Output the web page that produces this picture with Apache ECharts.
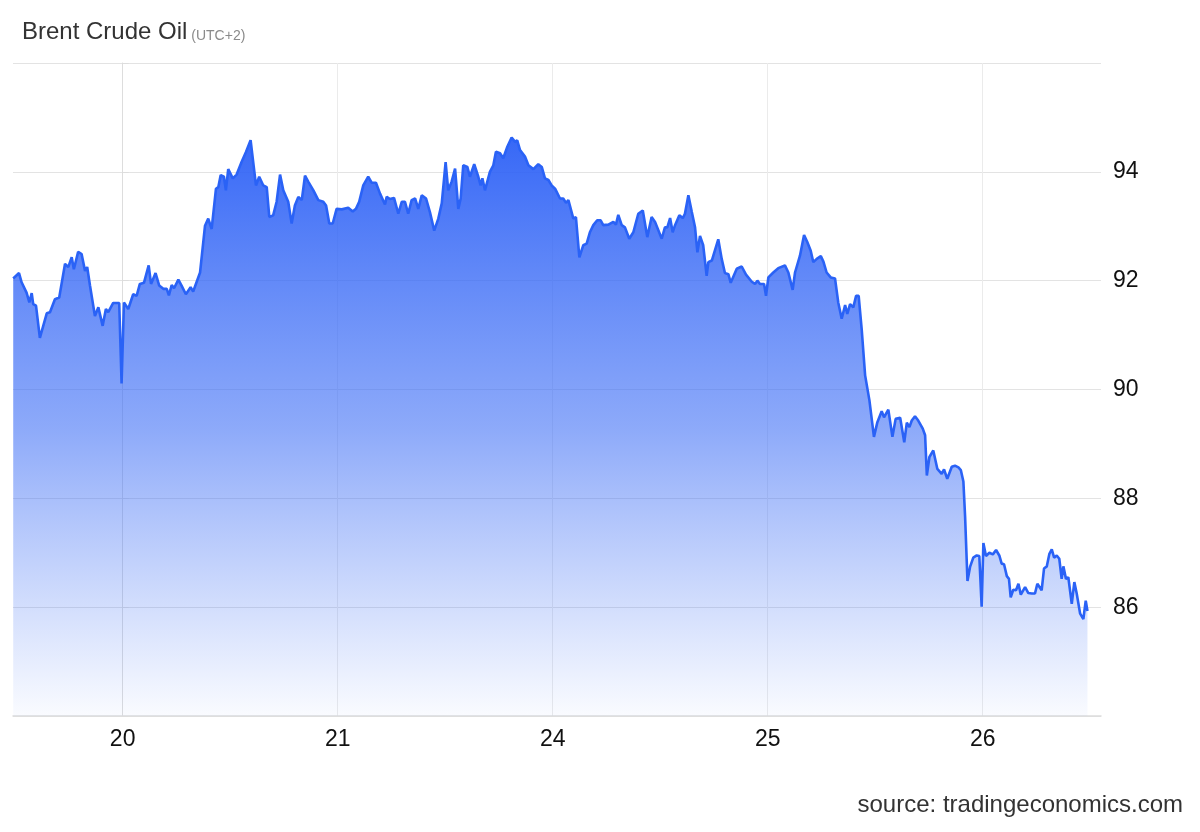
<!DOCTYPE html>
<html>
<head>
<meta charset="utf-8">
<script src="https://cdn.jsdelivr.net/npm/echarts@6/dist/echarts.min.js"></script>
<style>
html,body{margin:0;padding:0;background:#fff;}
#chart{width:1200px;height:832px;}
</style>
</head>
<body>
<div id="chart"></div>
<script>
// x-axis: trading-day index (0 = 20th, 1 = 21st, 2 = 24th, 3 = 25th, 4 = 26th)
const dayLabels = ['20', '21', '24', '25', '26'];
const dayIndex = [0, 1, 2, 3, 4];
const yLabels = [86, 88, 90, 92, 94];

const times = [
-0.509,-0.482,-0.470,-0.447,-0.434,-0.423,-0.416,-0.403,-0.385,-0.353,-0.338,-0.315,-0.295,-0.268,-0.253,-0.237,-0.227,-0.207,-0.191,-0.175,
-0.165,-0.152,-0.129,-0.113,-0.093,-0.078,-0.067,-0.044,-0.016,-0.005,0.006,0.026,0.049,0.065,0.080,0.099,0.121,0.132,0.153,0.170,
0.189,0.205,0.215,0.228,0.239,0.259,0.274,0.294,0.316,0.328,0.360,0.383,0.398,0.414,0.434,0.445,0.456,0.471,0.480,0.491,
0.512,0.530,0.553,0.573,0.595,0.620,0.635,0.654,0.670,0.682,0.700,0.716,0.732,0.747,0.770,0.786,0.801,0.817,0.833,0.848,
0.863,0.887,0.910,0.933,0.946,0.961,0.977,0.995,1.019,1.049,1.070,1.085,1.100,1.119,1.142,1.158,1.178,1.197,1.220,1.228,
1.243,1.262,1.282,1.298,1.313,1.328,1.344,1.360,1.375,1.391,1.411,1.429,1.449,1.468,1.484,1.502,1.514,1.530,1.546,1.561,
1.572,1.584,1.603,1.615,1.635,1.654,1.665,1.673,1.685,1.708,1.724,1.736,1.755,1.770,1.789,1.809,1.825,1.835,1.848,1.871,
1.887,1.910,1.933,1.949,1.964,1.980,1.995,2.011,2.034,2.049,2.062,2.073,2.096,2.108,2.124,2.142,2.158,2.173,2.189,2.207,
2.223,2.235,2.259,2.282,2.294,2.305,2.321,2.336,2.356,2.375,2.398,2.419,2.440,2.460,2.476,2.507,2.522,2.533,2.546,2.558,
2.569,2.589,2.605,2.615,2.631,2.647,2.662,2.673,2.685,2.700,2.716,2.724,2.740,2.770,2.786,2.801,2.817,2.828,2.856,2.879,
2.899,2.926,2.941,2.952,2.964,2.983,2.992,3.003,3.026,3.049,3.080,3.096,3.116,3.127,3.150,3.169,3.184,3.200,3.212,3.228,
3.247,3.259,3.274,3.293,3.313,3.328,3.344,3.360,3.370,3.383,3.398,3.411,3.423,3.437,3.453,3.473,3.494,3.510,3.519,3.530,
3.541,3.561,3.580,3.595,3.616,3.635,3.647,3.659,3.670,3.685,3.700,3.721,3.732,3.740,3.752,3.770,3.789,3.809,3.820,3.835,
3.856,3.871,3.887,3.898,3.910,3.918,3.929,3.941,3.956,3.972,3.984,3.995,4.003,4.015,4.031,4.047,4.062,4.077,4.088,4.099,
4.112,4.122,4.130,4.142,4.155,4.166,4.177,4.197,4.212,4.228,4.243,4.254,4.274,4.285,4.298,4.310,4.321,4.332,4.344,4.356,
4.367,4.375,4.387,4.398,4.414,4.426,4.437,4.453,4.468,4.479,4.487
];

const prices = [
92.04,92.14,91.97,91.78,91.60,91.77,91.57,91.54,90.95,91.40,91.42,91.66,91.69,92.31,92.25,92.43,92.21,92.53,92.49,92.18,
92.25,91.91,91.35,91.51,91.17,91.48,91.42,91.59,91.59,90.11,91.60,91.48,91.75,91.72,91.94,91.96,92.28,91.94,92.14,91.91,
91.85,91.85,91.73,91.92,91.86,92.02,91.91,91.75,91.88,91.80,92.15,93.01,93.14,92.95,93.69,93.72,93.94,93.91,93.66,94.05,
93.88,93.95,94.18,94.36,94.58,93.75,93.91,93.75,93.72,93.17,93.20,93.45,93.95,93.66,93.45,93.05,93.38,93.54,93.48,93.93,
93.82,93.66,93.48,93.45,93.38,93.05,93.05,93.32,93.31,93.34,93.27,93.32,93.45,93.75,93.91,93.80,93.80,93.60,93.40,93.54,
93.50,93.52,93.23,93.45,93.45,93.23,93.48,93.51,93.32,93.57,93.51,93.26,92.92,93.14,93.42,94.18,93.66,93.82,94.06,93.32,
93.51,94.12,94.09,93.91,94.14,93.91,93.75,93.88,93.66,94.00,94.12,94.37,94.34,94.25,94.46,94.63,94.55,94.58,94.40,94.28,
94.12,94.05,94.14,94.09,93.88,93.85,93.75,93.69,93.51,93.51,93.43,93.48,93.14,93.17,92.43,92.65,92.68,92.89,93.02,93.11,
93.11,93.02,93.03,93.08,93.03,93.21,93.02,92.98,92.77,92.89,93.23,93.29,92.80,93.17,93.08,92.77,92.98,92.98,93.15,92.89,
93.02,93.20,93.15,93.23,93.57,93.26,92.98,92.52,92.82,92.65,92.09,92.34,92.37,92.76,92.40,92.14,92.12,91.96,92.22,92.26,
92.11,91.98,91.94,92.00,91.94,91.94,91.72,92.06,92.15,92.23,92.28,92.15,91.83,92.15,92.46,92.84,92.71,92.55,92.34,92.40,
92.45,92.35,92.15,92.06,92.04,91.60,91.30,91.55,91.39,91.57,91.51,91.72,91.72,91.11,90.26,89.80,89.13,89.40,89.43,89.60,
89.49,89.63,89.13,89.46,89.48,89.03,89.39,89.31,89.43,89.51,89.43,89.28,89.16,88.42,88.76,88.88,88.54,88.45,88.53,88.36,
88.58,88.60,88.57,88.52,88.31,87.66,86.48,86.74,86.91,86.95,86.94,86.01,87.18,86.94,87.00,86.97,87.05,86.95,86.80,86.79,
86.57,86.52,86.18,86.32,86.31,86.43,86.23,86.37,86.26,86.25,86.25,86.43,86.31,86.71,86.75,86.98,87.06,86.91,86.95,86.89,
86.52,86.75,86.52,86.55,86.06,86.46,86.25,85.88,85.78,86.12,85.93
];

const seriesData = times.map((t, i) => [t, prices[i]]);

const chart = echarts.init(document.getElementById('chart'), null, {renderer: 'canvas'});
const FONT = '"Liberation Sans", Arial, Helvetica, sans-serif';

chart.setOption({
  animation: false,
  backgroundColor: '#ffffff',
  textStyle: {fontFamily: FONT},
  title: [{
    left: 17,
    top: 15,
    text: '{a|Brent Crude Oil}{b| (UTC+2)}',
    textStyle: {
      fontWeight: 'normal',
      rich: {
        a: {fontSize: 24, fontWeight: 'normal', color: '#333333', fontFamily: FONT, verticalAlign: 'bottom'},
        b: {fontSize: 14, fontWeight: 'normal', color: '#8a8a8a', fontFamily: FONT, verticalAlign: 'bottom', padding: [0, 0, 1, 0]}
      }
    }
  }, {
    right: 12,
    bottom: 10,
    text: 'source: tradingeconomics.com',
    textStyle: {fontSize: 24, fontWeight: 'normal', color: '#333333', fontFamily: FONT}
  }],
  grid: {left: 13, right: 99, top: 63, bottom: 116, containLabel: false},
  xAxis: {
    type: 'value',
    min: -0.51,
    max: 4.55,
    axisLine: {show: true, lineStyle: {color: '#dddddd', width: 1.5}},
    axisTick: {show: false, customValues: dayIndex},
    axisLabel: {
      customValues: dayIndex,
      fontSize: 23,
      color: '#111111',
      margin: 12,
      fontFamily: FONT,
      formatter: v => dayLabels[dayIndex.indexOf(Math.round(v))] || ''
    },
    splitLine: {show: true, lineStyle: {color: '#ebebeb', width: 1}}
  },
  yAxis: {
    type: 'value',
    position: 'right',
    min: 84,
    max: 96,
    interval: 2,
    axisLine: {show: true, lineStyle: {color: '#dddddd', width: 1}},
    axisTick: {show: true, length: 6, lineStyle: {color: '#dddddd'}},
    axisLabel: {
      fontSize: 23,
      color: '#111111',
      margin: 12,
      fontFamily: FONT,
      formatter: v => (yLabels.indexOf(v) >= 0 ? String(v) : '')
    },
    splitLine: {show: true, lineStyle: {color: '#e3e3e3', width: 1}}
  },
  series: [{
    type: 'line',
    data: seriesData,
    showSymbol: false,
    smooth: false,
    lineStyle: {color: '#2a62f6', width: 2.6},
    areaStyle: {
      origin: 'start',
      opacity: 1,
      color: new echarts.graphic.LinearGradient(0, 0, 0, 1, [
        {offset: 0, color: 'rgba(44,96,246,0.95)'},
        {offset: 0.5, color: 'rgba(64,112,246,0.60)'},
        {offset: 1, color: 'rgba(80,125,246,0.03)'}
      ])
    }
  }]
});
</script>
</body>
</html>
